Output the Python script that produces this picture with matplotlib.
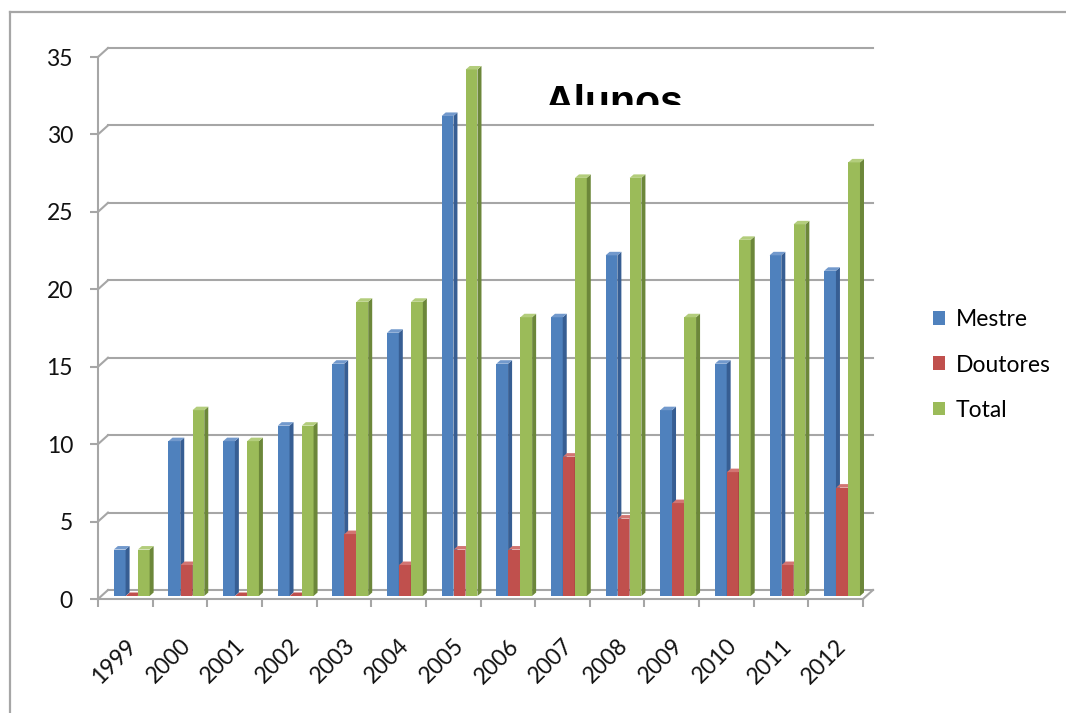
import matplotlib
matplotlib.use("Agg")
import matplotlib.pyplot as plt
from matplotlib.patches import Polygon, Patch
from matplotlib.lines import Line2D
from matplotlib.transforms import Bbox, TransformedBbox

anos = ['1999', '2000', '2001', '2002', '2003', '2004', '2005',
        '2006', '2007', '2008', '2009', '2010', '2011', '2012']
mestre = [3, 10, 10, 11, 15, 17, 31, 15, 18, 22, 12, 15, 22, 21]
doutores = [0, 2, 0, 0, 4, 2, 3, 3, 9, 5, 6, 8, 2, 7]
total = [3, 12, 10, 11, 19, 19, 34, 18, 27, 27, 18, 23, 24, 28]

# name, values, front, side, top
series = [
    ('Mestre', mestre, '#4F81BD', '#375E93', '#7299CC'),
    ('Doutores', doutores, '#C0504D', '#8A3633', '#D27572'),
    ('Total', total, '#9BBB59', '#6C873A', '#B3CD7C'),
]

W, H = 1066, 713
fig = plt.figure(figsize=(W / 100, H / 100), dpi=100)
fig.patch.set_facecolor('white')

# outer chart border (left and top edges)
grey = '#A6A6A6'
fig.add_artist(Line2D([10 / W, 10 / W], [0, 1 - 12 / H], transform=fig.transFigure, color=grey, lw=1.6))
fig.add_artist(Line2D([10 / W, 1], [1 - 12 / H, 1 - 12 / H], transform=fig.transFigure, color=grey, lw=1.6))

ax = fig.add_axes([98 / W, (H - 599) / H, 765 / W, 542 / H])
ax.set_xlim(0, len(anos))
ax.set_ylim(0, 35)
ax.patch.set_alpha(0)

# 3d depth of the wall / floor and of each bar, in data units
DX, DY = 10 / 54.64, 9 / 15.49
OX, OY = 3 / 54.64, 3 / 15.49
BX, BY = 4 / 54.64, 3.5 / 15.49

line_kw = dict(color=grey, lw=1.5, clip_on=False, zorder=1)
n = len(anos)
for v in range(0, 40, 5):
    ax.plot([DX, n + DX], [v + DY, v + DY], **line_kw)
    ax.plot([0, DX], [v, v + DY], **line_kw)
ax.plot([n, n + DX], [0, DY], **line_kw)

width = 0.215
starts = [0.235, 0.455, 0.675]
for s, (name, vals, front, side, top) in enumerate(series):
    xs = [i + starts[s] + OX for i in range(n)]
    ax.bar(xs, vals, width=width, bottom=OY, align='edge', color=front,
           edgecolor='none', zorder=3 + s, clip_on=False)
    for x0, v in zip(xs, vals):
        x1 = x0 + width
        y1 = OY + v
        ax.add_patch(Polygon([(x1, OY), (x1 + BX, OY + BY), (x1 + BX, y1 + BY), (x1, y1)],
                             closed=True, color=side, lw=0, zorder=3 + s, clip_on=False))
        ax.add_patch(Polygon([(x0, y1), (x1, y1), (x1 + BX, y1 + BY), (x0 + BX, y1 + BY)],
                             closed=True, color=top if v > 0 else front, lw=0,
                             zorder=3 + s, clip_on=False))

for sp in ['top', 'right']:
    ax.spines[sp].set_visible(False)
for sp in ['left', 'bottom']:
    ax.spines[sp].set_color(grey)
    ax.spines[sp].set_linewidth(1.5)

font = 'Lato'
fs = 16.5
ax.set_yticks(range(0, 40, 5))
ax.tick_params(axis='y', length=6, width=1.5, color=grey, pad=12, labelsize=fs,
               labelcolor='#111111')
ax.set_xticks(range(n + 1))
ax.set_xticks([i + 0.5 for i in range(n)], minor=True)
ax.set_xticklabels([''] * (n + 1))
ax.set_xticklabels(anos, minor=True, rotation=45, ha='right', va='top',
                   rotation_mode='anchor')
ax.tick_params(axis='x', which='major', length=6, width=1.5, color=grey)
ax.tick_params(axis='x', which='minor', length=0, pad=26, labelsize=fs,
               labelcolor='#111111')
for lab in ax.get_xticklabels(minor=True) + ax.get_yticklabels():
    lab.set_fontfamily(font)

# title, partly hidden under the plot area
title = fig.text(545 / W, 1 - 114 / H, 'Alunos', fontsize=29.5, fontweight='bold',
                 family='Liberation Sans', ha='left', va='baseline')
title.set_clip_box(TransformedBbox(Bbox.from_extents(0, 1 - 105 / H, 1, 1), fig.transFigure))
title.set_clip_on(True)

handles = [Patch(facecolor=c, edgecolor='none') for _, _, c, _, _ in series]
fig.legend(handles, [nm for nm, *_ in series], loc='center left',
           bbox_to_anchor=(912 / W, 1 - 365 / H), frameon=False,
           prop={'family': font, 'size': fs}, handlelength=0.55, handleheight=0.55,
           handletextpad=0.45, labelspacing=1.05)

fig.savefig('out.png', dpi=100, facecolor='white')
